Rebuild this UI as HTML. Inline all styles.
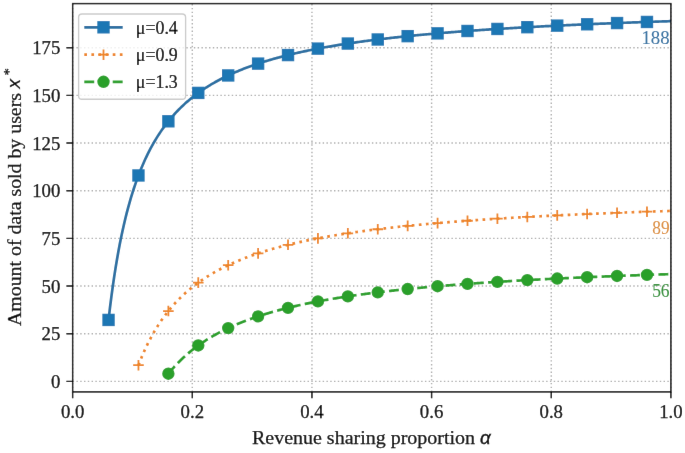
<!DOCTYPE html>
<html><head><meta charset="utf-8"><style>
html,body{margin:0;padding:0;background:#fff;}
body{width:685px;height:453px;overflow:hidden;}
svg{display:block;will-change:transform;}
</style></head><body>
<svg width="685" height="453" viewBox="0 0 685 453">
<defs><filter id="bl" x="0" y="0" width="685" height="453" filterUnits="userSpaceOnUse"><feConvolveMatrix order="3" kernelMatrix="0.00163 0.03713 0.00163 0.03713 0.84497 0.03713 0.00163 0.03713 0.00163" divisor="1" edgeMode="duplicate" preserveAlpha="false"/></filter>
<clipPath id="ax"><rect x="72.65" y="3.6" width="598.25" height="388.30"/></clipPath></defs>
<g filter="url(#bl)">
<rect x="0" y="0" width="685" height="453" fill="#fff"/>
<path d="M72.65 391.90V3.60M192.30 391.90V3.60M311.95 391.90V3.60M431.60 391.90V3.60M551.25 391.90V3.60M670.90 391.90V3.60M72.65 381.40H670.90M72.65 333.72H670.90M72.65 286.05H670.90M72.65 238.37H670.90M72.65 190.70H670.90M72.65 143.02H670.90M72.65 95.35H670.90M72.65 47.67H670.90" stroke="#b0b0b0" stroke-width="1.43" stroke-dasharray="1.43 2.358" fill="none"/>
<g clip-path="url(#ax)">
<polyline points="108.55,319.93 109.95,307.95 111.36,296.84 112.76,286.51 114.17,276.88 115.57,267.88 116.98,259.45 118.39,251.54 119.79,244.10 121.20,237.09 122.60,230.48 124.01,224.23 125.42,218.31 126.82,212.70 128.23,207.37 129.63,202.31 131.04,197.49 132.45,192.89 133.85,188.51 135.26,184.32 136.66,180.32 138.07,176.49 139.47,172.82 140.88,169.31 142.29,165.93 143.69,162.69 145.10,159.57 146.50,156.57 147.91,153.69 149.32,150.91 150.72,148.23 152.13,145.64 153.53,143.15 154.94,140.74 156.35,138.41 157.75,136.16 159.16,133.98 160.56,131.87 161.97,129.83 163.37,127.85 164.78,125.93 166.19,124.07 167.59,122.26 169.00,120.51 170.40,118.81 171.81,117.15 173.22,115.54 174.62,113.98 176.03,112.46 177.43,110.98 178.84,109.53 180.25,108.13 181.65,106.76 183.06,105.43 184.46,104.13 185.87,102.86 187.27,101.63 188.68,100.42 190.09,99.24 191.49,98.10 192.90,96.97 194.30,95.88 195.71,94.81 197.12,93.76 198.52,92.73 199.93,91.73 201.33,90.75 202.74,89.80 204.15,88.86 205.55,87.94 206.96,87.04 208.36,86.16 209.77,85.30 211.17,84.46 212.58,83.63 213.99,82.82 215.39,82.02 216.80,81.24 218.20,80.48 219.61,79.73 221.02,78.99 222.42,78.27 223.83,77.56 225.23,76.87 226.64,76.18 228.05,75.51 229.45,74.86 230.86,74.21 232.26,73.57 233.67,72.95 235.07,72.34 236.48,71.73 237.89,71.14 239.29,70.56 240.70,69.99 242.10,69.42 243.51,68.87 244.92,68.32 246.32,67.79 247.73,67.26 249.13,66.74 250.54,66.23 251.95,65.73 253.35,65.23 254.76,64.75 256.16,64.27 257.57,63.79 258.97,63.33 260.38,62.87 261.79,62.42 263.19,61.97 264.60,61.53 266.00,61.10 267.41,60.68 268.82,60.26 270.22,59.84 271.63,59.43 273.03,59.03 274.44,58.63 275.85,58.24 277.25,57.86 278.66,57.48 280.06,57.10 281.47,56.73 282.88,56.37 284.28,56.01 285.69,55.65 287.09,55.30 288.50,54.95 289.90,54.61 291.31,54.27 292.72,53.94 294.12,53.61 295.53,53.29 296.93,52.96 298.34,52.65 299.75,52.33 301.15,52.03 302.56,51.72 303.96,51.42 305.37,51.12 306.78,50.83 308.18,50.54 309.59,50.25 310.99,49.96 312.40,49.68 313.80,49.41 315.21,49.13 316.62,48.86 318.02,48.59 319.43,48.33 320.83,48.07 322.24,47.81 323.65,47.55 325.05,47.30 326.46,47.05 327.86,46.80 329.27,46.56 330.68,46.31 332.08,46.07 333.49,45.84 334.89,45.60 336.30,45.37 337.70,45.14 339.11,44.91 340.52,44.69 341.92,44.47 343.33,44.25 344.73,44.03 346.14,43.81 347.55,43.60 348.95,43.39 350.36,43.18 351.76,42.97 353.17,42.77 354.58,42.56 355.98,42.36 357.39,42.16 358.79,41.97 360.20,41.77 361.60,41.58 363.01,41.39 364.42,41.20 365.82,41.01 367.23,40.83 368.63,40.64 370.04,40.46 371.45,40.28 372.85,40.10 374.26,39.92 375.66,39.75 377.07,39.57 378.48,39.40 379.88,39.23 381.29,39.06 382.69,38.89 384.10,38.73 385.50,38.56 386.91,38.40 388.32,38.24 389.72,38.08 391.13,37.92 392.53,37.76 393.94,37.61 395.35,37.45 396.75,37.30 398.16,37.15 399.56,37.00 400.97,36.85 402.38,36.70 403.78,36.55 405.19,36.41 406.59,36.26 408.00,36.12 409.40,35.98 410.81,35.83 412.22,35.70 413.62,35.56 415.03,35.42 416.43,35.28 417.84,35.15 419.25,35.01 420.65,34.88 422.06,34.75 423.46,34.62 424.87,34.49 426.28,34.36 427.68,34.23 429.09,34.11 430.49,33.98 431.90,33.85 433.31,33.73 434.71,33.61 436.12,33.49 437.52,33.37 438.93,33.25 440.33,33.13 441.74,33.01 443.15,32.89 444.55,32.77 445.96,32.66 447.36,32.54 448.77,32.43 450.18,32.32 451.58,32.21 452.99,32.09 454.39,31.98 455.80,31.87 457.21,31.76 458.61,31.66 460.02,31.55 461.42,31.44 462.83,31.34 464.23,31.23 465.64,31.13 467.05,31.02 468.45,30.92 469.86,30.82 471.26,30.72 472.67,30.62 474.08,30.52 475.48,30.42 476.89,30.32 478.29,30.22 479.70,30.13 481.11,30.03 482.51,29.93 483.92,29.84 485.32,29.74 486.73,29.65 488.13,29.56 489.54,29.46 490.95,29.37 492.35,29.28 493.76,29.19 495.16,29.10 496.57,29.01 497.98,28.92 499.38,28.83 500.79,28.74 502.19,28.66 503.60,28.57 505.01,28.48 506.41,28.40 507.82,28.31 509.22,28.23 510.63,28.15 512.03,28.06 513.44,27.98 514.85,27.90 516.25,27.82 517.66,27.73 519.06,27.65 520.47,27.57 521.88,27.49 523.28,27.41 524.69,27.34 526.09,27.26 527.50,27.18 528.91,27.10 530.31,27.03 531.72,26.95 533.12,26.87 534.53,26.80 535.93,26.72 537.34,26.65 538.75,26.57 540.15,26.50 541.56,26.43 542.96,26.36 544.37,26.28 545.78,26.21 547.18,26.14 548.59,26.07 549.99,26.00 551.40,25.93 552.81,25.86 554.21,25.79 555.62,25.72 557.02,25.65 558.43,25.58 559.83,25.52 561.24,25.45 562.65,25.38 564.05,25.31 565.46,25.25 566.86,25.18 568.27,25.12 569.68,25.05 571.08,24.99 572.49,24.92 573.89,24.86 575.30,24.79 576.71,24.73 578.11,24.67 579.52,24.61 580.92,24.54 582.33,24.48 583.73,24.42 585.14,24.36 586.55,24.30 587.95,24.24 589.36,24.18 590.76,24.12 592.17,24.06 593.58,24.00 594.98,23.94 596.39,23.88 597.79,23.82 599.20,23.76 600.61,23.71 602.01,23.65 603.42,23.59 604.82,23.54 606.23,23.48 607.64,23.42 609.04,23.37 610.45,23.31 611.85,23.26 613.26,23.20 614.66,23.15 616.07,23.09 617.48,23.04 618.88,22.98 620.29,22.93 621.69,22.88 623.10,22.82 624.51,22.77 625.91,22.72 627.32,22.67 628.72,22.61 630.13,22.56 631.54,22.51 632.94,22.46 634.35,22.41 635.75,22.36 637.16,22.31 638.56,22.26 639.97,22.21 641.38,22.16 642.78,22.11 644.19,22.06 645.59,22.01 647.00,21.96 648.41,21.91 649.81,21.86 651.22,21.82 652.62,21.77 654.03,21.72 655.44,21.67 656.84,21.63 658.25,21.58 659.65,21.53 661.06,21.49 662.46,21.44 663.87,21.39 665.28,21.35 666.68,21.30 668.09,21.26 669.49,21.21 670.90,21.17" fill="none" stroke="#2a70a2" stroke-width="2.69" stroke-linejoin="round"/>
<rect x="103.25" y="314.63" width="10.6" height="10.6" fill="#1f77b4" stroke="#1f77b4" stroke-width="1.79"/>
<rect x="133.16" y="170.16" width="10.6" height="10.6" fill="#1f77b4" stroke="#1f77b4" stroke-width="1.79"/>
<rect x="163.07" y="115.99" width="10.6" height="10.6" fill="#1f77b4" stroke="#1f77b4" stroke-width="1.79"/>
<rect x="192.98" y="87.61" width="10.6" height="10.6" fill="#1f77b4" stroke="#1f77b4" stroke-width="1.79"/>
<rect x="222.90" y="70.14" width="10.6" height="10.6" fill="#1f77b4" stroke="#1f77b4" stroke-width="1.79"/>
<rect x="252.81" y="58.31" width="10.6" height="10.6" fill="#1f77b4" stroke="#1f77b4" stroke-width="1.79"/>
<rect x="282.72" y="49.77" width="10.6" height="10.6" fill="#1f77b4" stroke="#1f77b4" stroke-width="1.79"/>
<rect x="312.63" y="43.31" width="10.6" height="10.6" fill="#1f77b4" stroke="#1f77b4" stroke-width="1.79"/>
<rect x="342.55" y="38.25" width="10.6" height="10.6" fill="#1f77b4" stroke="#1f77b4" stroke-width="1.79"/>
<rect x="372.46" y="34.19" width="10.6" height="10.6" fill="#1f77b4" stroke="#1f77b4" stroke-width="1.79"/>
<rect x="402.37" y="30.85" width="10.6" height="10.6" fill="#1f77b4" stroke="#1f77b4" stroke-width="1.79"/>
<rect x="432.28" y="28.06" width="10.6" height="10.6" fill="#1f77b4" stroke="#1f77b4" stroke-width="1.79"/>
<rect x="462.19" y="25.69" width="10.6" height="10.6" fill="#1f77b4" stroke="#1f77b4" stroke-width="1.79"/>
<rect x="492.11" y="23.66" width="10.6" height="10.6" fill="#1f77b4" stroke="#1f77b4" stroke-width="1.79"/>
<rect x="522.02" y="21.89" width="10.6" height="10.6" fill="#1f77b4" stroke="#1f77b4" stroke-width="1.79"/>
<rect x="551.93" y="20.34" width="10.6" height="10.6" fill="#1f77b4" stroke="#1f77b4" stroke-width="1.79"/>
<rect x="581.85" y="18.97" width="10.6" height="10.6" fill="#1f77b4" stroke="#1f77b4" stroke-width="1.79"/>
<rect x="611.76" y="17.75" width="10.6" height="10.6" fill="#1f77b4" stroke="#1f77b4" stroke-width="1.79"/>
<rect x="641.67" y="16.66" width="10.6" height="10.6" fill="#1f77b4" stroke="#1f77b4" stroke-width="1.79"/>
<polyline points="138.46,365.21 139.79,361.77 141.12,358.47 142.45,355.29 143.78,352.23 145.11,349.28 146.44,346.44 147.78,343.71 149.11,341.06 150.44,338.51 151.77,336.04 153.10,333.65 154.43,331.35 155.76,329.11 157.09,326.95 158.42,324.85 159.76,322.82 161.09,320.85 162.42,318.94 163.75,317.08 165.08,315.27 166.41,313.52 167.74,311.82 169.07,310.16 170.40,308.55 171.74,306.98 173.07,305.46 174.40,303.97 175.73,302.52 177.06,301.11 178.39,299.74 179.72,298.40 181.05,297.09 182.38,295.81 183.72,294.56 185.05,293.35 186.38,292.16 187.71,291.00 189.04,289.87 190.37,288.76 191.70,287.67 193.03,286.61 194.36,285.58 195.70,284.56 197.03,283.57 198.36,282.60 199.69,281.65 201.02,280.72 202.35,279.81 203.68,278.91 205.01,278.04 206.34,277.18 207.68,276.34 209.01,275.51 210.34,274.70 211.67,273.91 213.00,273.13 214.33,272.37 215.66,271.62 216.99,270.88 218.32,270.16 219.65,269.45 220.99,268.75 222.32,268.07 223.65,267.40 224.98,266.74 226.31,266.09 227.64,265.45 228.97,264.83 230.30,264.21 231.63,263.60 232.97,263.01 234.30,262.42 235.63,261.85 236.96,261.28 238.29,260.72 239.62,260.17 240.95,259.63 242.28,259.10 243.61,258.58 244.95,258.06 246.28,257.55 247.61,257.05 248.94,256.56 250.27,256.07 251.60,255.60 252.93,255.13 254.26,254.66 255.59,254.21 256.93,253.75 258.26,253.31 259.59,252.87 260.92,252.44 262.25,252.02 263.58,251.60 264.91,251.18 266.24,250.77 267.57,250.37 268.91,249.98 270.24,249.58 271.57,249.20 272.90,248.82 274.23,248.44 275.56,248.07 276.89,247.70 278.22,247.34 279.55,246.98 280.89,246.63 282.22,246.28 283.55,245.94 284.88,245.60 286.21,245.27 287.54,244.93 288.87,244.61 290.20,244.28 291.53,243.97 292.87,243.65 294.20,243.34 295.53,243.03 296.86,242.73 298.19,242.43 299.52,242.13 300.85,241.84 302.18,241.55 303.51,241.26 304.85,240.98 306.18,240.70 307.51,240.42 308.84,240.15 310.17,239.88 311.50,239.61 312.83,239.34 314.16,239.08 315.49,238.82 316.83,238.57 318.16,238.31 319.49,238.06 320.82,237.82 322.15,237.57 323.48,237.33 324.81,237.09 326.14,236.85 327.47,236.61 328.81,236.38 330.14,236.15 331.47,235.92 332.80,235.70 334.13,235.48 335.46,235.25 336.79,235.04 338.12,234.82 339.45,234.60 340.79,234.39 342.12,234.18 343.45,233.97 344.78,233.77 346.11,233.56 347.44,233.36 348.77,233.16 350.10,232.96 351.43,232.77 352.77,232.57 354.10,232.38 355.43,232.19 356.76,232.00 358.09,231.81 359.42,231.63 360.75,231.44 362.08,231.26 363.41,231.08 364.75,230.90 366.08,230.72 367.41,230.55 368.74,230.38 370.07,230.20 371.40,230.03 372.73,229.86 374.06,229.69 375.39,229.53 376.73,229.36 378.06,229.20 379.39,229.04 380.72,228.88 382.05,228.72 383.38,228.56 384.71,228.40 386.04,228.25 387.37,228.09 388.71,227.94 390.04,227.79 391.37,227.64 392.70,227.49 394.03,227.34 395.36,227.20 396.69,227.05 398.02,226.91 399.35,226.76 400.69,226.62 402.02,226.48 403.35,226.34 404.68,226.20 406.01,226.07 407.34,225.93 408.67,225.80 410.00,225.66 411.33,225.53 412.67,225.40 414.00,225.27 415.33,225.14 416.66,225.01 417.99,224.88 419.32,224.75 420.65,224.63 421.98,224.50 423.31,224.38 424.65,224.26 425.98,224.13 427.31,224.01 428.64,223.89 429.97,223.77 431.30,223.65 432.63,223.54 433.96,223.42 435.29,223.30 436.63,223.19 437.96,223.07 439.29,222.96 440.62,222.85 441.95,222.74 443.28,222.63 444.61,222.52 445.94,222.41 447.27,222.30 448.61,222.19 449.94,222.08 451.27,221.98 452.60,221.87 453.93,221.77 455.26,221.66 456.59,221.56 457.92,221.46 459.25,221.35 460.59,221.25 461.92,221.15 463.25,221.05 464.58,220.95 465.91,220.85 467.24,220.76 468.57,220.66 469.90,220.56 471.23,220.47 472.57,220.37 473.90,220.28 475.23,220.18 476.56,220.09 477.89,220.00 479.22,219.90 480.55,219.81 481.88,219.72 483.21,219.63 484.55,219.54 485.88,219.45 487.21,219.36 488.54,219.28 489.87,219.19 491.20,219.10 492.53,219.02 493.86,218.93 495.19,218.84 496.53,218.76 497.86,218.68 499.19,218.59 500.52,218.51 501.85,218.43 503.18,218.34 504.51,218.26 505.84,218.18 507.17,218.10 508.51,218.02 509.84,217.94 511.17,217.86 512.50,217.78 513.83,217.70 515.16,217.63 516.49,217.55 517.82,217.47 519.15,217.40 520.48,217.32 521.82,217.24 523.15,217.17 524.48,217.09 525.81,217.02 527.14,216.95 528.47,216.87 529.80,216.80 531.13,216.73 532.46,216.66 533.80,216.58 535.13,216.51 536.46,216.44 537.79,216.37 539.12,216.30 540.45,216.23 541.78,216.16 543.11,216.09 544.44,216.03 545.78,215.96 547.11,215.89 548.44,215.82 549.77,215.76 551.10,215.69 552.43,215.62 553.76,215.56 555.09,215.49 556.42,215.43 557.76,215.36 559.09,215.30 560.42,215.23 561.75,215.17 563.08,215.11 564.41,215.04 565.74,214.98 567.07,214.92 568.40,214.86 569.74,214.80 571.07,214.73 572.40,214.67 573.73,214.61 575.06,214.55 576.39,214.49 577.72,214.43 579.05,214.37 580.38,214.31 581.72,214.26 583.05,214.20 584.38,214.14 585.71,214.08 587.04,214.02 588.37,213.97 589.70,213.91 591.03,213.85 592.36,213.80 593.70,213.74 595.03,213.68 596.36,213.63 597.69,213.57 599.02,213.52 600.35,213.46 601.68,213.41 603.01,213.36 604.34,213.30 605.68,213.25 607.01,213.19 608.34,213.14 609.67,213.09 611.00,213.04 612.33,212.98 613.66,212.93 614.99,212.88 616.32,212.83 617.66,212.78 618.99,212.73 620.32,212.68 621.65,212.62 622.98,212.57 624.31,212.52 625.64,212.47 626.97,212.43 628.30,212.38 629.64,212.33 630.97,212.28 632.30,212.23 633.63,212.18 634.96,212.13 636.29,212.09 637.62,212.04 638.95,211.99 640.28,211.94 641.62,211.90 642.95,211.85 644.28,211.80 645.61,211.76 646.94,211.71 648.27,211.66 649.60,211.62 650.93,211.57 652.26,211.53 653.60,211.48 654.93,211.44 656.26,211.39 657.59,211.35 658.92,211.30 660.25,211.26 661.58,211.22 662.91,211.17 664.24,211.13 665.58,211.09 666.91,211.04 668.24,211.00 669.57,210.96 670.90,210.91" fill="none" stroke="#ee8526" stroke-width="2.69" stroke-linejoin="round" stroke-dasharray="2.681 4.424"/>
<path d="M133.16 365.21H143.76M138.46 359.91V370.51" stroke="#ee8526" stroke-width="1.79" fill="none"/>
<path d="M163.07 311.03H173.67M168.37 305.73V316.33" stroke="#ee8526" stroke-width="1.79" fill="none"/>
<path d="M192.98 282.65H203.58M198.28 277.35V287.95" stroke="#ee8526" stroke-width="1.79" fill="none"/>
<path d="M222.90 265.19H233.50M228.20 259.89V270.49" stroke="#ee8526" stroke-width="1.79" fill="none"/>
<path d="M252.81 253.36H263.41M258.11 248.06V258.66" stroke="#ee8526" stroke-width="1.79" fill="none"/>
<path d="M282.72 244.82H293.32M288.02 239.52V250.12" stroke="#ee8526" stroke-width="1.79" fill="none"/>
<path d="M312.63 238.36H323.23M317.93 233.06V243.66" stroke="#ee8526" stroke-width="1.79" fill="none"/>
<path d="M342.55 233.30H353.15M347.85 228.00V238.60" stroke="#ee8526" stroke-width="1.79" fill="none"/>
<path d="M372.46 229.24H383.06M377.76 223.94V234.54" stroke="#ee8526" stroke-width="1.79" fill="none"/>
<path d="M402.37 225.90H412.97M407.67 220.60V231.20" stroke="#ee8526" stroke-width="1.79" fill="none"/>
<path d="M432.28 223.11H442.88M437.58 217.81V228.41" stroke="#ee8526" stroke-width="1.79" fill="none"/>
<path d="M462.19 220.74H472.80M467.50 215.44V226.04" stroke="#ee8526" stroke-width="1.79" fill="none"/>
<path d="M492.11 218.70H502.71M497.41 213.40V224.00" stroke="#ee8526" stroke-width="1.79" fill="none"/>
<path d="M522.02 216.94H532.62M527.32 211.64V222.24" stroke="#ee8526" stroke-width="1.79" fill="none"/>
<path d="M551.93 215.39H562.53M557.23 210.09V220.69" stroke="#ee8526" stroke-width="1.79" fill="none"/>
<path d="M581.85 214.02H592.44M587.14 208.72V219.32" stroke="#ee8526" stroke-width="1.79" fill="none"/>
<path d="M611.76 212.80H622.36M617.06 207.50V218.10" stroke="#ee8526" stroke-width="1.79" fill="none"/>
<path d="M641.67 211.71H652.27M646.97 206.41V217.01" stroke="#ee8526" stroke-width="1.79" fill="none"/>
<polyline points="168.37,373.73 169.63,372.19 170.88,370.70 172.14,369.24 173.40,367.81 174.65,366.43 175.91,365.07 177.16,363.75 178.42,362.46 179.68,361.20 180.93,359.97 182.19,358.77 183.45,357.59 184.70,356.44 185.96,355.32 187.21,354.22 188.47,353.15 189.73,352.10 190.98,351.07 192.24,350.06 193.50,349.07 194.75,348.10 196.01,347.16 197.27,346.23 198.52,345.32 199.78,344.43 201.03,343.56 202.29,342.70 203.55,341.86 204.80,341.03 206.06,340.23 207.32,339.43 208.57,338.65 209.83,337.89 211.09,337.14 212.34,336.40 213.60,335.68 214.85,334.96 216.11,334.26 217.37,333.58 218.62,332.90 219.88,332.24 221.14,331.59 222.39,330.95 223.65,330.31 224.90,329.69 226.16,329.08 227.42,328.48 228.67,327.89 229.93,327.31 231.19,326.74 232.44,326.18 233.70,325.62 234.96,325.08 236.21,324.54 237.47,324.01 238.72,323.49 239.98,322.98 241.24,322.47 242.49,321.97 243.75,321.48 245.01,321.00 246.26,320.52 247.52,320.05 248.77,319.59 250.03,319.13 251.29,318.68 252.54,318.24 253.80,317.80 255.06,317.37 256.31,316.94 257.57,316.52 258.83,316.11 260.08,315.70 261.34,315.30 262.59,314.90 263.85,314.51 265.11,314.12 266.36,313.74 267.62,313.36 268.88,312.99 270.13,312.62 271.39,312.26 272.64,311.90 273.90,311.54 275.16,311.19 276.41,310.85 277.67,310.51 278.93,310.17 280.18,309.84 281.44,309.51 282.70,309.18 283.95,308.86 285.21,308.54 286.46,308.23 287.72,307.92 288.98,307.61 290.23,307.31 291.49,307.01 292.75,306.71 294.00,306.42 295.26,306.13 296.52,305.84 297.77,305.56 299.03,305.28 300.28,305.01 301.54,304.73 302.80,304.46 304.05,304.19 305.31,303.93 306.57,303.67 307.82,303.41 309.08,303.15 310.33,302.90 311.59,302.65 312.85,302.40 314.10,302.15 315.36,301.91 316.62,301.67 317.87,301.43 319.13,301.19 320.39,300.96 321.64,300.73 322.90,300.50 324.15,300.27 325.41,300.05 326.67,299.83 327.92,299.61 329.18,299.39 330.44,299.17 331.69,298.96 332.95,298.75 334.20,298.54 335.46,298.33 336.72,298.12 337.97,297.92 339.23,297.72 340.49,297.52 341.74,297.32 343.00,297.13 344.26,296.93 345.51,296.74 346.77,296.55 348.02,296.36 349.28,296.17 350.54,295.99 351.79,295.80 353.05,295.62 354.31,295.44 355.56,295.26 356.82,295.08 358.08,294.91 359.33,294.73 360.59,294.56 361.84,294.39 363.10,294.22 364.36,294.05 365.61,293.89 366.87,293.72 368.13,293.56 369.38,293.39 370.64,293.23 371.89,293.07 373.15,292.91 374.41,292.76 375.66,292.60 376.92,292.45 378.18,292.29 379.43,292.14 380.69,291.99 381.95,291.84 383.20,291.69 384.46,291.54 385.71,291.40 386.97,291.25 388.23,291.11 389.48,290.97 390.74,290.82 392.00,290.68 393.25,290.54 394.51,290.41 395.76,290.27 397.02,290.13 398.28,290.00 399.53,289.86 400.79,289.73 402.05,289.60 403.30,289.47 404.56,289.34 405.82,289.21 407.07,289.08 408.33,288.95 409.58,288.83 410.84,288.70 412.10,288.58 413.35,288.46 414.61,288.33 415.87,288.21 417.12,288.09 418.38,287.97 419.63,287.85 420.89,287.73 422.15,287.62 423.40,287.50 424.66,287.39 425.92,287.27 427.17,287.16 428.43,287.04 429.69,286.93 430.94,286.82 432.20,286.71 433.45,286.60 434.71,286.49 435.97,286.38 437.22,286.27 438.48,286.17 439.74,286.06 440.99,285.96 442.25,285.85 443.51,285.75 444.76,285.64 446.02,285.54 447.27,285.44 448.53,285.34 449.79,285.24 451.04,285.14 452.30,285.04 453.56,284.94 454.81,284.84 456.07,284.74 457.32,284.65 458.58,284.55 459.84,284.46 461.09,284.36 462.35,284.27 463.61,284.17 464.86,284.08 466.12,283.99 467.38,283.90 468.63,283.80 469.89,283.71 471.14,283.62 472.40,283.53 473.66,283.45 474.91,283.36 476.17,283.27 477.43,283.18 478.68,283.09 479.94,283.01 481.19,282.92 482.45,282.84 483.71,282.75 484.96,282.67 486.22,282.59 487.48,282.50 488.73,282.42 489.99,282.34 491.25,282.26 492.50,282.17 493.76,282.09 495.01,282.01 496.27,281.93 497.53,281.85 498.78,281.78 500.04,281.70 501.30,281.62 502.55,281.54 503.81,281.47 505.07,281.39 506.32,281.31 507.58,281.24 508.83,281.16 510.09,281.09 511.35,281.01 512.60,280.94 513.86,280.87 515.12,280.79 516.37,280.72 517.63,280.65 518.88,280.58 520.14,280.50 521.40,280.43 522.65,280.36 523.91,280.29 525.17,280.22 526.42,280.15 527.68,280.08 528.94,280.02 530.19,279.95 531.45,279.88 532.70,279.81 533.96,279.74 535.22,279.68 536.47,279.61 537.73,279.55 538.99,279.48 540.24,279.41 541.50,279.35 542.75,279.28 544.01,279.22 545.27,279.16 546.52,279.09 547.78,279.03 549.04,278.97 550.29,278.90 551.55,278.84 552.81,278.78 554.06,278.72 555.32,278.66 556.57,278.59 557.83,278.53 559.09,278.47 560.34,278.41 561.60,278.35 562.86,278.29 564.11,278.24 565.37,278.18 566.63,278.12 567.88,278.06 569.14,278.00 570.39,277.94 571.65,277.89 572.91,277.83 574.16,277.77 575.42,277.72 576.68,277.66 577.93,277.60 579.19,277.55 580.44,277.49 581.70,277.44 582.96,277.38 584.21,277.33 585.47,277.27 586.73,277.22 587.98,277.17 589.24,277.11 590.50,277.06 591.75,277.01 593.01,276.95 594.26,276.90 595.52,276.85 596.78,276.80 598.03,276.74 599.29,276.69 600.55,276.64 601.80,276.59 603.06,276.54 604.31,276.49 605.57,276.44 606.83,276.39 608.08,276.34 609.34,276.29 610.60,276.24 611.85,276.19 613.11,276.14 614.37,276.09 615.62,276.04 616.88,276.00 618.13,275.95 619.39,275.90 620.65,275.85 621.90,275.80 623.16,275.76 624.42,275.71 625.67,275.66 626.93,275.62 628.18,275.57 629.44,275.53 630.70,275.48 631.95,275.43 633.21,275.39 634.47,275.34 635.72,275.30 636.98,275.25 638.24,275.21 639.49,275.16 640.75,275.12 642.00,275.08 643.26,275.03 644.52,274.99 645.77,274.94 647.03,274.90 648.29,274.86 649.54,274.81 650.80,274.77 652.06,274.73 653.31,274.69 654.57,274.64 655.82,274.60 657.08,274.56 658.34,274.52 659.59,274.48 660.85,274.44 662.11,274.40 663.36,274.35 664.62,274.31 665.87,274.27 667.13,274.23 668.39,274.19 669.64,274.15 670.90,274.11" fill="none" stroke="#2ca02c" stroke-width="2.69" stroke-linejoin="round" stroke-dasharray="9.921 4.290"/>
<circle cx="168.37" cy="373.73" r="5.3" fill="#2ca02c" stroke="#2ca02c" stroke-width="1.79"/>
<circle cx="198.28" cy="345.49" r="5.3" fill="#2ca02c" stroke="#2ca02c" stroke-width="1.79"/>
<circle cx="228.20" cy="328.12" r="5.3" fill="#2ca02c" stroke="#2ca02c" stroke-width="1.79"/>
<circle cx="258.11" cy="316.35" r="5.3" fill="#2ca02c" stroke="#2ca02c" stroke-width="1.79"/>
<circle cx="288.02" cy="307.84" r="5.3" fill="#2ca02c" stroke="#2ca02c" stroke-width="1.79"/>
<circle cx="317.93" cy="301.42" r="5.3" fill="#2ca02c" stroke="#2ca02c" stroke-width="1.79"/>
<circle cx="347.85" cy="296.39" r="5.3" fill="#2ca02c" stroke="#2ca02c" stroke-width="1.79"/>
<circle cx="377.76" cy="292.34" r="5.3" fill="#2ca02c" stroke="#2ca02c" stroke-width="1.79"/>
<circle cx="407.67" cy="289.02" r="5.3" fill="#2ca02c" stroke="#2ca02c" stroke-width="1.79"/>
<circle cx="437.58" cy="286.24" r="5.3" fill="#2ca02c" stroke="#2ca02c" stroke-width="1.79"/>
<circle cx="467.50" cy="283.89" r="5.3" fill="#2ca02c" stroke="#2ca02c" stroke-width="1.79"/>
<circle cx="497.41" cy="281.86" r="5.3" fill="#2ca02c" stroke="#2ca02c" stroke-width="1.79"/>
<circle cx="527.32" cy="280.10" r="5.3" fill="#2ca02c" stroke="#2ca02c" stroke-width="1.79"/>
<circle cx="557.23" cy="278.56" r="5.3" fill="#2ca02c" stroke="#2ca02c" stroke-width="1.79"/>
<circle cx="587.14" cy="277.20" r="5.3" fill="#2ca02c" stroke="#2ca02c" stroke-width="1.79"/>
<circle cx="617.06" cy="275.99" r="5.3" fill="#2ca02c" stroke="#2ca02c" stroke-width="1.79"/>
<circle cx="646.97" cy="274.90" r="5.3" fill="#2ca02c" stroke="#2ca02c" stroke-width="1.79"/>
</g>
<rect x="72.65" y="3.6" width="598.25" height="388.30" fill="none" stroke="#000" stroke-width="1.43"/>
<path d="M66.38 381.40H72.65M66.38 333.72H72.65M66.38 286.05H72.65M66.38 238.37H72.65M66.38 190.70H72.65M66.38 143.02H72.65M66.38 95.35H72.65M66.38 47.67H72.65M72.65 391.90V398.17M192.30 391.90V398.17M311.95 391.90V398.17M431.60 391.90V398.17M551.25 391.90V398.17M670.90 391.90V398.17" stroke="#000" stroke-width="1.43"/>
<text transform="translate(60.40 387.90) scale(1.0000 1.0000)" text-anchor="end" font-family='"Liberation Serif", serif' font-size="18.8" fill="#000" stroke="#000" stroke-width="0.25">0</text>
<text transform="translate(60.40 340.22) scale(1.0000 1.0000)" text-anchor="end" font-family='"Liberation Serif", serif' font-size="18.8" fill="#000" stroke="#000" stroke-width="0.25">25</text>
<text transform="translate(60.40 292.55) scale(1.0000 1.0000)" text-anchor="end" font-family='"Liberation Serif", serif' font-size="18.8" fill="#000" stroke="#000" stroke-width="0.25">50</text>
<text transform="translate(60.40 244.87) scale(1.0000 1.0000)" text-anchor="end" font-family='"Liberation Serif", serif' font-size="18.8" fill="#000" stroke="#000" stroke-width="0.25">75</text>
<text transform="translate(60.40 197.20) scale(1.0000 1.0000)" text-anchor="end" font-family='"Liberation Serif", serif' font-size="18.8" fill="#000" stroke="#000" stroke-width="0.25">100</text>
<text transform="translate(60.40 149.52) scale(1.0000 1.0000)" text-anchor="end" font-family='"Liberation Serif", serif' font-size="18.8" fill="#000" stroke="#000" stroke-width="0.25">125</text>
<text transform="translate(60.40 101.85) scale(1.0000 1.0000)" text-anchor="end" font-family='"Liberation Serif", serif' font-size="18.8" fill="#000" stroke="#000" stroke-width="0.25">150</text>
<text transform="translate(60.40 54.17) scale(1.0000 1.0000)" text-anchor="end" font-family='"Liberation Serif", serif' font-size="18.8" fill="#000" stroke="#000" stroke-width="0.25">175</text>
<text transform="translate(72.65 418.00) scale(1.0000 1.0000)" text-anchor="middle" font-family='"Liberation Serif", serif' font-size="18.8" fill="#000" stroke="#000" stroke-width="0.25">0.0</text>
<text transform="translate(192.30 418.00) scale(1.0000 1.0000)" text-anchor="middle" font-family='"Liberation Serif", serif' font-size="18.8" fill="#000" stroke="#000" stroke-width="0.25">0.2</text>
<text transform="translate(311.95 418.00) scale(1.0000 1.0000)" text-anchor="middle" font-family='"Liberation Serif", serif' font-size="18.8" fill="#000" stroke="#000" stroke-width="0.25">0.4</text>
<text transform="translate(431.60 418.00) scale(1.0000 1.0000)" text-anchor="middle" font-family='"Liberation Serif", serif' font-size="18.8" fill="#000" stroke="#000" stroke-width="0.25">0.6</text>
<text transform="translate(551.25 418.00) scale(1.0000 1.0000)" text-anchor="middle" font-family='"Liberation Serif", serif' font-size="18.8" fill="#000" stroke="#000" stroke-width="0.25">0.8</text>
<text transform="translate(670.90 418.00) scale(1.0000 1.0000)" text-anchor="middle" font-family='"Liberation Serif", serif' font-size="18.8" fill="#000" stroke="#000" stroke-width="0.25">1.0</text>
<text transform="translate(669.60 43.90) scale(1.0000 1.0000)" text-anchor="end" font-family='"Liberation Serif", serif' font-size="18.8" fill="#3673a3" stroke="#3673a3" stroke-width="0.1">188</text>
<text transform="translate(669.60 233.50) scale(0.9200 1.0000)" text-anchor="end" font-family='"Liberation Serif", serif' font-size="18.8" fill="#dc8f3e" stroke="#dc8f3e" stroke-width="0.1">89</text>
<text transform="translate(669.60 296.90) scale(0.9300 1.0000)" text-anchor="end" font-family='"Liberation Serif", serif' font-size="18.8" fill="#339139" stroke="#339139" stroke-width="0.1">56</text>
<text transform="translate(252.00 443.65) scale(1.0000 1.0000)" textLength="223.00" lengthAdjust="spacingAndGlyphs" font-family='"Liberation Serif", serif' font-size="18.8" fill="#000" stroke="#000" stroke-width="0.25">Revenue sharing proportion</text>
<text transform="translate(480.00 443.65) scale(1.0000 1.0000)" font-family='"Liberation Sans", sans-serif' font-size="18.8" font-style="italic" fill="#000" stroke="#000" stroke-width="0.35">α</text>
<text transform="translate(20.60 326.00) rotate(-90) scale(1.0000 1.0000)" textLength="233.00" lengthAdjust="spacingAndGlyphs" font-family='"Liberation Serif", serif' font-size="18.8" fill="#000" stroke="#000" stroke-width="0.25">Amount of data sold by users</text>
<text transform="translate(19.90 88.40) rotate(-90) scale(1.0000 1.0000)" font-family='"Liberation Sans", sans-serif' font-size="18.8" font-style="italic" fill="#000" stroke="#000" stroke-width="0.2">x</text>
<text transform="translate(13.80 75.60) rotate(-90) scale(1.0000 1.0000)" font-family='"Liberation Serif", serif' font-size="14.8" fill="#000" stroke="#000" stroke-width="0.2">*</text>
<rect x="78.6" y="14.0" width="107.00" height="85.30" rx="3.4" ry="3.4" fill="#fff" fill-opacity="0.8" stroke="#cccccc" stroke-width="1.37"/>
<path d="M84.3 27.3H122.7" stroke="#2a70a2" stroke-width="2.69" fill="none"/>
<rect x="98.20" y="22.00" width="10.6" height="10.6" fill="#1f77b4" stroke="#1f77b4" stroke-width="1.79"/>
<text transform="translate(135.80 33.70) scale(0.9510 1.0000)" font-family='"Liberation Serif", serif' font-size="18.8" fill="#000" stroke="#000" stroke-width="0.25">μ=0.4</text>
<path d="M84.3 54.7H122.7" stroke="#ee8526" stroke-width="2.69" fill="none" stroke-dasharray="2.681 4.424"/>
<path d="M98.20 54.70H108.80M103.50 49.40V60.00" stroke="#ee8526" stroke-width="1.79" fill="none"/>
<text transform="translate(135.80 61.10) scale(0.9510 1.0000)" font-family='"Liberation Serif", serif' font-size="18.8" fill="#000" stroke="#000" stroke-width="0.25">μ=0.9</text>
<path d="M84.3 81.8H122.7" stroke="#2ca02c" stroke-width="2.69" fill="none" stroke-dasharray="9.921 4.290"/>
<circle cx="103.50" cy="81.80" r="5.3" fill="#2ca02c" stroke="#2ca02c" stroke-width="1.79"/>
<text transform="translate(135.80 88.20) scale(0.9510 1.0000)" font-family='"Liberation Serif", serif' font-size="18.8" fill="#000" stroke="#000" stroke-width="0.25">μ=1.3</text>
</g></svg>
</body></html>
